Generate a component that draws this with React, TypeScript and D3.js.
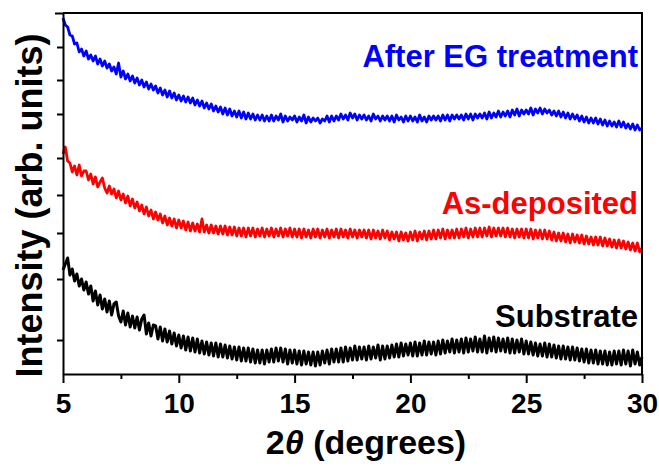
import React, { useEffect, useRef } from 'react';
import * as d3 from 'd3';

// scan grid of the diffractometer (2theta, degrees)
const scanStart = 5;
const scanStep = 0.1;

// intensities (arb. units), one value per scan step
const afterEG = [
  356, 349, 347, 339, 338, 330, 331, 322, 325, 318,
  323, 315, 319, 313, 318, 310, 315, 308, 313, 306,
  310, 303, 307, 300, 311, 297, 303, 295, 300, 293,
  298, 291, 296, 289, 294, 287, 292, 285, 290, 284,
  288, 281, 286, 279, 284, 277, 283, 276, 281, 274,
  279, 273, 278, 272, 277, 271, 276, 269, 274, 268,
  273, 266, 271, 265, 270, 263, 268, 262, 267, 260,
  266, 259, 265, 258, 263, 257, 263, 256, 262, 255,
  261, 255, 260, 254, 259, 254, 259, 253, 258, 253,
  259, 253, 258, 254, 260, 252, 258, 253, 257, 254,
  258, 252, 257, 253, 259, 251, 257, 252, 256, 253,
  256, 251, 255, 253, 258, 252, 258, 253, 258, 254,
  260, 255, 259, 254, 261, 256, 260, 254, 259, 255,
  259, 254, 258, 253, 260, 255, 258, 253, 258, 254,
  258, 253, 258, 252, 259, 254, 257, 252, 258, 253,
  258, 253, 257, 252, 259, 253, 257, 252, 258, 254,
  258, 254, 258, 253, 259, 254, 259, 253, 259, 255,
  259, 255, 259, 254, 260, 255, 260, 254, 260, 256,
  260, 256, 261, 255, 262, 256, 261, 257, 263, 257,
  262, 258, 263, 257, 264, 259, 265, 258, 264, 260,
  264, 260, 266, 259, 265, 261, 266, 260, 265, 261,
  264, 259, 263, 258, 263, 257, 262, 256, 261, 255,
  260, 255, 259, 253, 258, 252, 257, 251, 256, 251,
  256, 250, 255, 249, 254, 248, 253, 248, 252, 247,
  253, 247, 252, 246, 250, 245, 250, 244, 249, 244,
  246,
];

const asDeposited = [
  220, 227, 213, 211, 202, 208, 199, 209, 198, 203,
  203, 194, 200, 190, 197, 187, 192, 196, 186, 181,
  188, 180, 185, 176, 183, 174, 180, 171, 178, 168,
  175, 166, 172, 163, 169, 160, 167, 158, 164, 155,
  162, 154, 160, 151, 158, 149, 156, 148, 155, 146,
  154, 146, 153, 144, 152, 143, 151, 143, 150, 142,
  155, 142, 149, 141, 149, 141, 148, 140, 148, 140,
  148, 139, 147, 139, 147, 138, 146, 138, 146, 137,
  146, 138, 146, 137, 145, 138, 146, 137, 145, 138,
  146, 137, 145, 138, 146, 137, 145, 138, 146, 137,
  145, 137, 145, 136, 145, 137, 144, 136, 145, 137,
  145, 136, 144, 137, 145, 136, 144, 137, 145, 136,
  145, 137, 144, 136, 145, 137, 144, 136, 144, 137,
  144, 136, 144, 135, 144, 136, 143, 135, 144, 136,
  143, 134, 142, 135, 142, 133, 142, 134, 141, 133,
  142, 134, 143, 133, 142, 135, 143, 134, 143, 135,
  144, 135, 144, 136, 145, 135, 144, 136, 144, 136,
  145, 136, 145, 137, 146, 136, 145, 137, 146, 137,
  146, 137, 146, 138, 147, 137, 146, 138, 146, 138,
  146, 137, 146, 137, 145, 136, 145, 137, 145, 136,
  145, 136, 145, 135, 144, 136, 144, 135, 144, 135,
  143, 134, 142, 133, 141, 133, 141, 132, 140, 131,
  140, 132, 139, 131, 139, 130, 138, 130, 137, 129,
  137, 129, 137, 128, 136, 128, 135, 127, 134, 126,
  134, 126, 133, 125, 132, 124, 131, 123, 131, 122,
  126,
];

const substrate = [
  104, 110, 116, 99, 105, 93, 100, 88, 95, 84,
  92, 80, 88, 73, 83, 69, 79, 65, 75, 62,
  73, 59, 70, 72, 58, 52, 63, 49, 61, 47,
  58, 46, 57, 44, 55, 59, 40, 51, 38, 49,
  48, 35, 47, 33, 45, 32, 43, 30, 41, 28,
  39, 26, 38, 24, 37, 23, 36, 22, 35, 21,
  33, 20, 32, 19, 31, 18, 31, 17, 30, 17,
  29, 16, 28, 15, 27, 14, 27, 13, 26, 13,
  26, 12, 25, 11, 24, 11, 24, 10, 24, 12,
  25, 12, 26, 13, 26, 12, 25, 10, 24, 11,
  24, 10, 23, 9, 23, 10, 22, 9, 22, 8,
  22, 9, 23, 11, 24, 10, 25, 12, 25, 12,
  26, 12, 27, 13, 26, 14, 28, 14, 27, 15,
  27, 14, 28, 15, 27, 16, 29, 14, 28, 15,
  28, 16, 29, 17, 30, 17, 31, 18, 30, 19,
  31, 18, 32, 18, 31, 19, 33, 19, 32, 20,
  32, 19, 33, 20, 34, 21, 33, 22, 35, 21,
  34, 22, 35, 21, 36, 22, 35, 23, 37, 22,
  35, 22, 38, 21, 36, 23, 37, 22, 36, 23,
  35, 22, 36, 21, 35, 21, 34, 22, 35, 20,
  33, 20, 32, 19, 31, 18, 30, 18, 31, 17,
  30, 17, 29, 16, 28, 15, 28, 15, 27, 14,
  27, 14, 26, 13, 25, 12, 25, 11, 24, 11,
  24, 10, 23, 10, 23, 9, 22, 9, 23, 10,
  23, 9, 24, 10, 23, 8, 24, 10, 22, 9,
  17,
];

const seriesNames = ['After EG treatment', 'As-deposited', 'Substrate'];
const seriesColors = ['#0000ff', '#ff0000', '#000000'];

const xDomain = [5, 30];
const xTicks = [5, 10, 15, 20, 25, 30];
const xMinorTicks = [7.5, 12.5, 17.5, 22.5, 27.5];
const yMax = 361;
const yTicks = [34, 95, 141, 179, 216, 260, 294, 327];

const FONT = '"Liberation Sans", Arial, Helvetica, sans-serif';

const App = () => {
  const ref = useRef<SVGSVGElement>(null);

  useEffect(() => {
    const width = 659;
    const height = 467;
    const margin = { top: 13, right: 17, bottom: 93, left: 63 };

    const svg = d3.select(ref.current);
    svg.selectAll('*').remove();

    const x = d3.scaleLinear()
      .domain(xDomain)
      .range([margin.left, width - margin.right]);
    const y = d3.scaleLinear()
      .domain([0, yMax])
      .range([height - margin.bottom, margin.top]);

    // curves
    const line = d3.line<number>()
      .x((d, i) => x(scanStart + i * scanStep))
      .y(d => y(d));

    [afterEG, asDeposited, substrate].forEach((values, i) => {
      svg.append('path')
        .datum(values)
        .attr('fill', 'none')
        .attr('stroke', seriesColors[i])
        .attr('stroke-width', i === 2 ? 3 : 2.8)
        .attr('stroke-linejoin', 'round')
        .attr('d', line);
    });

    // frame
    const x0 = x(xDomain[0]);
    const x1 = x(xDomain[1]);
    const yTop = y(yMax);
    const yBot = y(0);
    svg.append('path')
      .attr('d', `M${x0},${yTop}H${x1}V${yBot}`)
      .attr('fill', 'none')
      .attr('stroke', '#000')
      .attr('stroke-width', 2);

    // x axis
    const xAxis = svg.append('g')
      .attr('transform', `translate(0,${yBot})`)
      .call(d3.axisBottom(x)
        .tickValues(xTicks)
        .tickSize(9)
        .tickSizeOuter(0)
        .tickPadding(10)
        .tickFormat(d3.format('d')));
    xAxis.select('.domain').attr('stroke-width', 2);
    xAxis.selectAll('line').attr('stroke-width', 2);
    xAxis.selectAll('text')
      .attr('font-family', FONT)
      .attr('font-size', 28)
      .attr('font-weight', 'bold')
      .attr('fill', '#000');

    const xMinor = svg.append('g')
      .attr('transform', `translate(0,${yBot})`)
      .call(d3.axisBottom(x).tickValues(xMinorTicks).tickSize(5).tickFormat(() => ''));
    xMinor.select('.domain').remove();
    xMinor.selectAll('line').attr('stroke-width', 2);

    // y axis, ticks without labels
    const yAxis = svg.append('g')
      .attr('transform', `translate(${x0},0)`)
      .call(d3.axisLeft(y).tickValues(yTicks).tickSize(6).tickSizeOuter(0).tickFormat(() => ''));
    yAxis.select('.domain').attr('stroke-width', 2);
    yAxis.selectAll('line').attr('stroke-width', 2);

    const yTopTick = svg.append('g')
      .attr('transform', `translate(${x0},0)`)
      .call(d3.axisLeft(y).tickValues([yMax]).tickSize(8).tickFormat(() => ''));
    yTopTick.select('.domain').remove();
    yTopTick.selectAll('line').attr('stroke-width', 2);

    // series labels
    const labelY = [67, 214, 327];
    seriesNames.forEach((name, i) => {
      svg.append('text')
        .attr('x', x1 - 4)
        .attr('y', labelY[i])
        .attr('text-anchor', 'end')
        .attr('font-family', FONT)
        .attr('font-size', 31)
        .attr('font-weight', 'bold')
        .attr('fill', seriesColors[i])
        .text(name);
    });

    // axis titles
    const xTitle = svg.append('text')
      .attr('x', 366)
      .attr('y', 454)
      .attr('text-anchor', 'middle')
      .attr('font-family', FONT)
      .attr('font-size', 34)
      .attr('font-weight', 'bold')
      .attr('fill', '#000');
    xTitle.append('tspan').text('2');
    xTitle.append('tspan').attr('font-style', 'italic').text('θ');
    xTitle.append('tspan').text(' (degrees)');

    svg.append('text')
      .attr('transform', `translate(42,${(yTop + yBot) / 2 + 12}) rotate(-90)`)
      .attr('text-anchor', 'middle')
      .attr('font-family', FONT)
      .attr('font-size', 36)
      .attr('font-weight', 'bold')
      .attr('fill', '#000')
      .text('Intensity (arb. units)');
  }, []);

  return (
    <svg
      ref={ref}
      width={659}
      height={467}
      style={{ position: 'absolute', left: 0, top: 0, background: '#fff' }}
    />
  );
};

export default App;
